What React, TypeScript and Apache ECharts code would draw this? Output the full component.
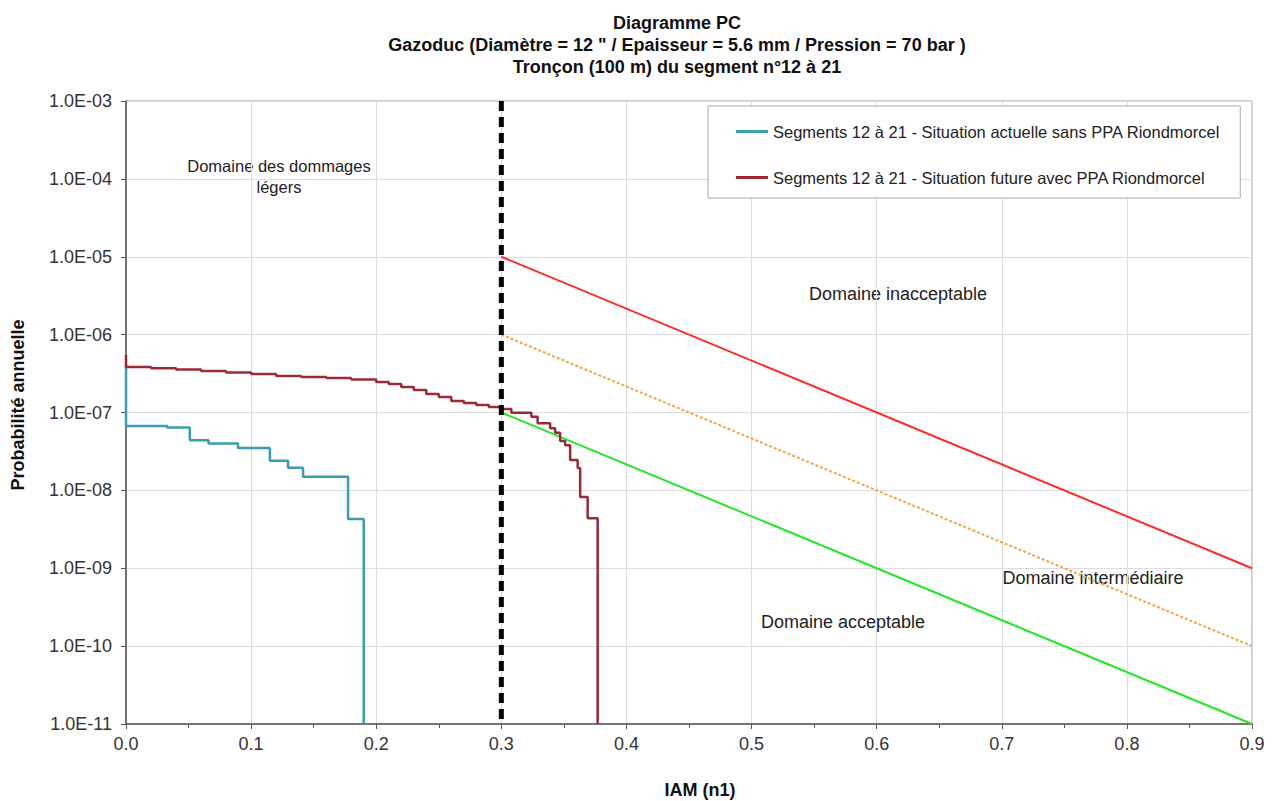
import React, { useEffect, useRef } from "react";
import * as echarts from "echarts";

// ---------- Data ----------
const tealX = [0, 0, 0.033, 0.051, 0.066, 0.0895, 0.115, 0.1295, 0.1415, 0.1775, 0.19];
const tealY = [4.0e-7, 6.7e-8, 6.4e-8, 4.4e-8, 4.0e-8, 3.5e-8, 2.4e-8, 1.95e-8, 1.5e-8, 4.3e-9, 1e-11];

const redX = [0, 0, 0.02, 0.04, 0.06, 0.08, 0.1, 0.12, 0.14, 0.16, 0.18, 0.2, 0.21, 0.22, 0.23, 0.24, 0.25, 0.26, 0.27, 0.28, 0.29, 0.3, 0.308, 0.324, 0.329, 0.339, 0.343, 0.347, 0.351, 0.355, 0.361, 0.363, 0.369, 0.377];
const redY = [5.5e-7, 3.84e-7, 3.7e-7, 3.56e-7, 3.41e-7, 3.26e-7, 3.12e-7, 2.95e-7, 2.86e-7, 2.77e-7, 2.65e-7, 2.47e-7, 2.32e-7, 2.12e-7, 1.95e-7, 1.73e-7, 1.58e-7, 1.41e-7, 1.32e-7, 1.25e-7, 1.18e-7, 1.11e-7, 9.9e-8, 8.8e-8, 7.3e-8, 6.3e-8, 5.5e-8, 4.3e-8, 3.8e-8, 2.45e-8, 1.94e-8, 8.2e-9, 4.4e-9, 1e-11];

const limitX = [0.3, 0.9];
const inacceptableY = [1e-5, 1e-9];
const intermediaireY = [1e-6, 1e-10];
const acceptableY = [1e-7, 1e-11];

const thresholdX = [0.3, 0.3];
const thresholdY = [1e-3, 1e-11];

const seriesNames = [
  "Segments 12 à 21 - Situation actuelle sans PPA Riondmorcel",
  "Segments 12 à 21 - Situation future avec PPA Riondmorcel",
];

const titleLines = [
  "Diagramme PC",
  'Gazoduc (Diamètre = 12 " / Epaisseur = 5.6 mm / Pression = 70 bar )',
  "Tronçon (100 m) du segment n°12 à 21",
];

const zip = (xs: number[], ys: number[]) => xs.map((x, i) => [x, ys[i]]);

const FONT = "Liberation Sans, Arial, sans-serif";

export default function App() {
  const ref = useRef<HTMLDivElement>(null);
  useEffect(() => {
    document.body.style.margin = "0";
    const chart = echarts.init(ref.current!, null, { renderer: "svg" });
    const option: any = {
      animation: false,
      backgroundColor: "#fff",
      textStyle: { fontFamily: FONT },
      title: {
        text: titleLines.join("\n"),
        left: 672,
        top: 7,
        textAlign: "center",
        textStyle: { fontFamily: FONT, fontSize: 18, fontWeight: "bold", color: "#111", lineHeight: 22 },
      },
      legend: {
        orient: "vertical",
        left: 708,
        top: 106,
        data: seriesNames,
        icon: "rect",
        itemWidth: 32,
        itemHeight: 3,
        itemGap: 29,
        padding: [17, 20, 12, 28],
        backgroundColor: "#fff",
        borderColor: "#aaa",
        borderWidth: 1,
        textStyle: { fontFamily: FONT, fontSize: 16.5, color: "#222" },
      },
      grid: {
        left: 126,
        right: 22,
        top: 101,
        bottom: 77,
        show: true,
        borderColor: "#999",
        borderWidth: 1,
      },
      xAxis: {
        type: "value",
        min: 0,
        max: 0.9,
        interval: 0.1,
        axisLine: { show: true, lineStyle: { color: "#555", width: 1.5 } },
        axisTick: { show: true, length: 5, lineStyle: { color: "#555" } },
        minorTick: { show: true, splitNumber: 2, length: 4, lineStyle: { color: "#555" } },
        axisLabel: {
          color: "#333",
          fontSize: 18,
          margin: 11,
          formatter: (v: number) => v.toFixed(1),
        },
        splitLine: { show: true, lineStyle: { color: "#ddd" } },
      },
      yAxis: {
        type: "log",
        logBase: 10,
        min: 1e-11,
        max: 1e-3,
        interval: 1,
        axisLine: { show: true, lineStyle: { color: "#555", width: 1.5 } },
        axisTick: { show: true, length: 5, lineStyle: { color: "#555" } },
        axisLabel: {
          color: "#333",
          fontSize: 18,
          margin: 14,
          formatter: (v: number) => {
            const e = Math.round(Math.log10(v));
            return "1.0E" + (e < 0 ? "-" : "+") + String(Math.abs(e)).padStart(2, "0");
          },
        },
        splitLine: { show: true, lineStyle: { color: "#ddd" } },
      },
      series: [
        {
          name: seriesNames[0],
          type: "line",
          step: "end",
          data: zip(tealX, tealY),
          showSymbol: false,
          lineStyle: { color: "#3a9cae", width: 2.5 },
          itemStyle: { color: "#3a9cae" },
          z: 3,
        },
        {
          name: seriesNames[1],
          type: "line",
          step: "end",
          data: zip(redX, redY),
          showSymbol: false,
          lineStyle: { color: "#9a2a36", width: 2.5 },
          itemStyle: { color: "#9a2a36" },
          z: 4,
        },
        {
          name: "inacceptable",
          type: "line",
          data: zip(limitX, inacceptableY),
          showSymbol: false,
          lineStyle: { color: "#ff2b2b", width: 2 },
          z: 2,
        },
        {
          name: "intermediaire",
          type: "line",
          data: zip(limitX, intermediaireY),
          showSymbol: false,
          lineStyle: { color: "#f3a447", width: 2, type: [3, 2] },
          z: 2,
        },
        {
          name: "acceptable",
          type: "line",
          data: zip(limitX, acceptableY),
          showSymbol: false,
          lineStyle: { color: "#22e622", width: 2 },
          z: 2,
        },
        {
          name: "seuil",
          type: "line",
          data: zip(thresholdX, thresholdY),
          showSymbol: false,
          lineStyle: { color: "#000", width: 5, type: [10, 6] },
          z: 5,
        },
      ],
      graphic: [
        {
          type: "text",
          x: 279,
          y: 176,
          style: {
            text: "Domaine des dommages\nlégers",
            font: `16.5px ${FONT}`,
            fill: "#222",
            align: "center",
            verticalAlign: "middle",
            lineHeight: 21,
          },
        },
        {
          type: "text",
          x: 898,
          y: 294,
          style: { text: "Domaine inacceptable", font: `18px ${FONT}`, fill: "#222", align: "center", verticalAlign: "middle" },
        },
        {
          type: "text",
          x: 1093,
          y: 578,
          style: { text: "Domaine intermédiaire", font: `18px ${FONT}`, fill: "#222", align: "center", verticalAlign: "middle" },
        },
        {
          type: "text",
          x: 843,
          y: 622,
          style: { text: "Domaine acceptable", font: `18px ${FONT}`, fill: "#222", align: "center", verticalAlign: "middle" },
        },
        {
          type: "text",
          x: 700,
          y: 790,
          style: { text: "IAM (n1)", font: `bold 18px ${FONT}`, fill: "#111", align: "center", verticalAlign: "middle" },
        },
        {
          type: "text",
          x: 18,
          y: 405,
          rotation: Math.PI / 2,
          style: { text: "Probabilité annuelle", font: `bold 18px ${FONT}`, fill: "#111", align: "center", verticalAlign: "middle" },
        },
      ],
    };
    chart.setOption(option);
    return () => chart.dispose();
  }, []);
  return <div ref={ref} style={{ width: 1274, height: 801 }} />;
}
